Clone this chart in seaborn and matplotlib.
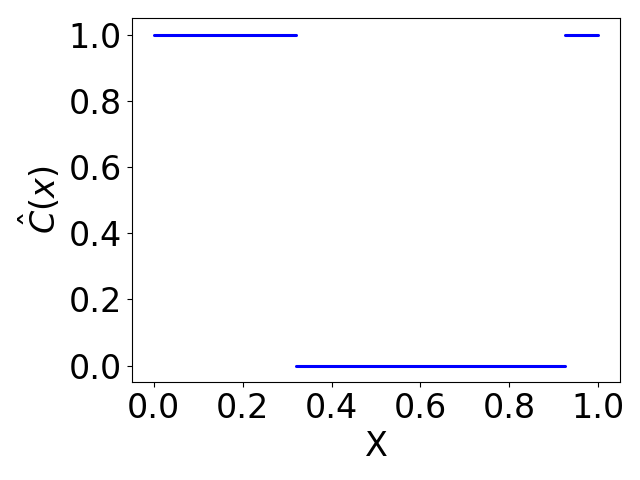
import matplotlib
matplotlib.use("Agg")
import matplotlib.pyplot as plt
import seaborn as sns
import pandas as pd

seg_id = [0, 0, 1, 1, 2, 2]
x_vals = [0.0, 0.32, 0.32, 0.925, 0.925, 1.0]
c_vals = [1.0, 1.0, 0.0, 0.0, 1.0, 1.0]

sns.set_style("ticks", {"text.color": "black", "axes.labelcolor": "black",
                        "xtick.color": "black", "ytick.color": "black",
                        "axes.edgecolor": "black"})
plt.rcParams['font.family'] = ['DejaVu Sans']

df = pd.DataFrame({"seg": seg_id, "x": x_vals, "c": c_vals})

fig, ax = plt.subplots(figsize=(6.4, 4.8), dpi=100)
sns.lineplot(data=df, x="x", y="c", units="seg", estimator=None,
             color="blue", linewidth=2.2, ax=ax, sort=False)
ax.set_xlabel("X", fontsize=24)
ax.set_ylabel(r"$\hat{C}(x)$", fontsize=24)
ax.tick_params(labelsize=24, colors="black")
ax.set_xticks([0.0, 0.2, 0.4, 0.6, 0.8, 1.0])
ax.set_yticks([0.0, 0.2, 0.4, 0.6, 0.8, 1.0])
for s in ax.spines.values():
    s.set_visible(True)
    s.set_color("black")
    s.set_linewidth(0.8)
fig.subplots_adjust(left=0.2055, right=0.9695, top=0.9625, bottom=0.204)
fig.savefig("out.png", dpi=100)
